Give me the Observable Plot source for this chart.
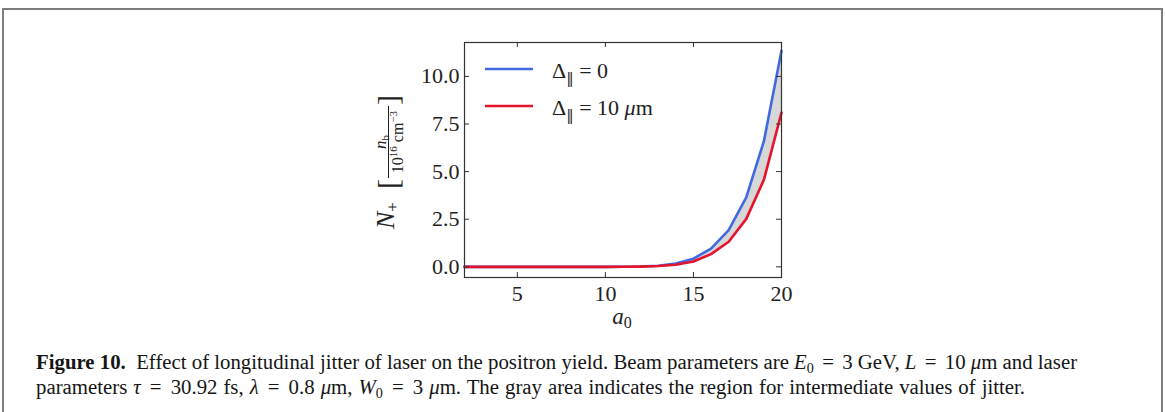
<!DOCTYPE html>
<html><head><meta charset="utf-8">
<script src="https://cdn.jsdelivr.net/npm/d3@7"></script>
<script src="https://cdn.jsdelivr.net/npm/@observablehq/plot@0.6"></script>
<style>
html,body{margin:0;padding:0;background:#fff;}
body{width:1165px;height:412px;overflow:hidden;position:relative;font-family:"Liberation Serif",serif;}
#frame{position:absolute;left:2px;top:8px;width:1157px;height:420px;border:2px solid #7d7d7d;box-sizing:content-box;}
#chart{position:absolute;left:0;top:0;}
#chart svg{display:block;}
#caption{position:absolute;left:36px;top:350px;font-size:20.8px;line-height:24.5px;color:#151515;white-space:nowrap;}
#caption sub{font-size:0.68em;vertical-align:-0.28em;line-height:0;}
#caption .eq{margin:0 0.15em;}
#caption .l2{word-spacing:0.8px;}
</style></head><body>
<div id="frame"></div>
<div id="chart"></div>
<div id="caption"><b>Figure 10.</b>&nbsp; Effect of longitudinal jitter of laser on the positron yield. Beam parameters are <i>E</i><sub>0</sub> <span class="eq">=</span> 3 GeV, <i>L</i> <span class="eq">=</span> 10 <i>μ</i>m and laser<br><span class="l2">parameters <i>τ</i> <span class="eq">=</span> 30.92 fs, <i>λ</i> <span class="eq">=</span> 0.8 <i>μ</i>m, <i>W</i><sub>0</sub> <span class="eq">=</span> 3 <i>μ</i>m. The gray area indicates the region for intermediate values of jitter.</span></div>
<script>
// ---- data ----
const a0 = [2, 3, 4, 5, 6, 7, 8, 9, 10, 11, 12, 13, 14, 15, 16, 17, 18, 19, 20];
const yieldNoJitter = [0, 0, 0, 0, 0, 0, 0, 0, 0, 0.005, 0.02, 0.06, 0.17, 0.43, 0.96, 1.93, 3.65, 6.6, 11.35];
const yieldJitter10 = [0, 0, 0, 0, 0, 0, 0, 0, 0, 0.003, 0.012, 0.04, 0.11, 0.28, 0.67, 1.32, 2.52, 4.57, 8.1];
const xTicks = [5, 10, 15, 20];
const yTicks = [0, 2.5, 5, 7.5, 10];
const seriesNames = ["Δ‖ = 0", "Δ‖ = 10 μm"];
const seriesColors = ["#4169E1", "#E4142F"];

const rows = a0.map((a, i) => ({a, blue: yieldNoJitter[i], red: yieldJitter10[i]}));

const W = 1165, H = 335;
const mL = 464, mR = 384, mT = 42, mB = 58;
const innerW = W - mL - mR, innerH = H - mT - mB;
const tickLen = 5;
const font = "Liberation Serif";

const plot = Plot.plot({
  width: W, height: H,
  marginLeft: mL, marginRight: mR, marginTop: mT, marginBottom: mB,
  x: {domain: [2, 20]},
  y: {domain: [-0.56, 11.78]},
  style: {fontFamily: font, color: "#222", background: "transparent", overflow: "visible"},
  marks: [
    Plot.areaY(rows, {x: "a", y1: "red", y2: "blue", fill: "#d7d7d7"}),
    Plot.line(rows, {x: "a", y: "blue", stroke: seriesColors[0], strokeWidth: 2.6}),
    Plot.line(rows, {x: "a", y: "red", stroke: seriesColors[1], strokeWidth: 2.6}),
    Plot.tickX(xTicks, {x: d => d, insetTop: innerH - tickLen, stroke: "#333"}),
    Plot.tickX(xTicks, {x: d => d, insetBottom: innerH - tickLen, stroke: "#333"}),
    Plot.tickY(yTicks, {y: d => d, insetRight: innerW - tickLen, stroke: "#333"}),
    Plot.tickY(yTicks, {y: d => d, insetLeft: innerW - tickLen, stroke: "#333"}),
    Plot.frame({stroke: "#333", strokeWidth: 1.2}),
    Plot.axisX({anchor: "bottom", ticks: xTicks, tickSize: 0, tickPadding: 8, label: null, fontSize: 22, fill: "#222"}),
    Plot.axisY({anchor: "left", ticks: yTicks, tickSize: 0, tickPadding: 5, label: null, fontSize: 22, fill: "#222", tickFormat: d3.format(".1f")})
  ]
});
document.getElementById("chart").appendChild(plot);

const svg = d3.select(plot);

// x-axis label a_0
const xl = svg.append("text").attr("x", 622).attr("y", 324).attr("text-anchor", "middle")
  .attr("font-family", font).attr("fill", "#222");
xl.append("tspan").attr("font-style", "italic").attr("font-size", 23).text("a");
xl.append("tspan").attr("font-size", 16).attr("dy", 4).text("0");

// y-axis label N_+ [ n_b / 10^16 cm^-3 ]
const g = svg.append("g").attr("transform", "translate(378,229) rotate(-90)")
  .attr("font-family", font).attr("fill", "#222").attr("text-anchor", "start");
const n = g.append("text").attr("x", 0).attr("y", 16);
n.append("tspan").attr("font-style", "italic").attr("font-size", 26).text("N");
n.append("tspan").attr("font-size", 17).attr("dy", 4).text("+");
g.append("text").attr("x", 40).attr("y", 20).attr("font-size", 30).text("[");
const num = g.append("text").attr("x", 87).attr("y", 8).attr("text-anchor", "middle");
num.append("tspan").attr("font-style", "italic").attr("font-size", 17).text("n");
num.append("tspan").attr("font-size", 11).attr("dy", 3).text("b");
g.append("line").attr("x1", 51).attr("x2", 123).attr("y1", 10.5).attr("y2", 10.5)
  .attr("stroke", "#222").attr("stroke-width", 1);
const den = g.append("text").attr("x", 87).attr("y", 24.5).attr("text-anchor", "middle").attr("font-size", 16);
den.append("tspan").text("10");
den.append("tspan").attr("font-size", 11).attr("dy", -6).text("16");
den.append("tspan").attr("dy", 6).text(" cm");
den.append("tspan").attr("font-size", 11).attr("dy", -6).text("−3");
g.append("text").attr("x", 124).attr("y", 20).attr("font-size", 30).text("]");

// legend
const legendY = [69, 106];
seriesNames.forEach((name, i) => {
  svg.append("line").attr("x1", 485).attr("x2", 533).attr("y1", legendY[i]).attr("y2", legendY[i])
    .attr("stroke", seriesColors[i]).attr("stroke-width", 2.6);
  const t = svg.append("text").attr("x", 552).attr("y", legendY[i] + 9).attr("text-anchor", "start")
    .attr("font-family", font).attr("font-size", 22).attr("fill", "#222");
  const [lhs, rhs] = name.split(" = ");
  t.append("tspan").text(lhs[0]);
  t.append("tspan").attr("font-size", 15).attr("font-family", "DejaVu Serif").attr("dy", 5).text(lhs.slice(1));
  t.append("tspan").attr("dy", -5).text(" = ");
  if (rhs.includes("μ")) {
    const [num10, unit] = rhs.split(" ");
    t.append("tspan").text(num10 + " ");
    t.append("tspan").attr("font-style", "italic").text(unit[0]);
    t.append("tspan").text(unit.slice(1));
  } else {
    t.append("tspan").text(rhs);
  }
});
</script>
</body></html>
